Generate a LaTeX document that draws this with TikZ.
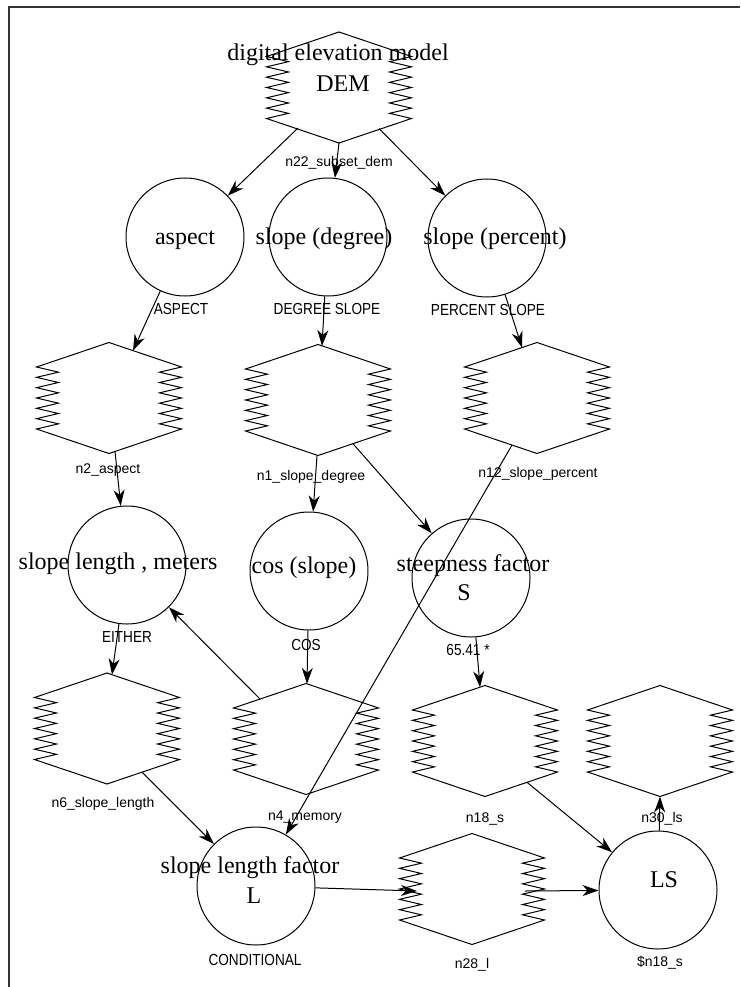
\documentclass[tikz,border=0pt]{standalone}
\usepackage{fontspec}
\setmainfont{Liberation Serif}
\newfontfamily\lblfont{Liberation Sans}
\newfontfamily\capfont[FakeStretch=0.85]{Liberation Sans}
\usetikzlibrary{arrows.meta,calc}
\tikzset{
  hexline/.style={draw=black, line width=1pt, line join=miter},
  zighex/.pic={
    \draw[hexline] (0,-55.5) -- (72.5,-31)
      \foreach \k in {0,...,5}{ -- ({50.5},{-25.83+10.333*\k}) -- ({72.5},{-20.67+10.333*\k}) }
      -- (0,55.5) -- (-72.5,31)
      \foreach \k in {0,...,5}{ -- ({-50.5},{25.83-10.333*\k}) -- ({-72.5},{20.67-10.333*\k}) }
      -- cycle;
  },
  hexbox/.style={draw=none, minimum width=145pt, minimum height=111pt, inner sep=0pt},
  circ/.style={circle, draw=black, line width=1pt, minimum size=118pt, inner sep=0pt},
  big/.style={font=\fontsize{24}{30}\selectfont, inner sep=0pt, anchor=base, text=black},
  lbl/.style={font=\lblfont\fontsize{14}{16}\selectfont, inner sep=0pt, text=black},
  capslbl/.style={font=\capfont\fontsize{16}{18}\selectfont, inner sep=0pt, text=black},
  arr/.style={line width=1pt, draw=black, -{Stealth[length=16pt,width=11pt,inset=5pt]}},
  frameline/.style={line width=2pt, draw=black!80},
}
\newcommand\zhex[2]{\node[hexbox] (#1) at (#2) {}; \pic at (#1) {zighex};}
\begin{document}
\begin{tikzpicture}[x=1pt,y=-1pt]
\useasboundingbox (0,0) rectangle (740,987);
\coordinate (fa) at (9,987);
\coordinate (fb) at (9,7);
\coordinate (fc) at (740,7);
\draw[frameline] (fa) -- (fb) -- (fc);

% hexagons
\zhex{dem}{339,87.5}
\zhex{ntwo}{109,398}
\zhex{none}{318,400}
\zhex{ntwelve}{537,398}
\zhex{nsix}{107,728.5}
\zhex{nfour}{306,739}
\zhex{neighteen}{485,741}
\zhex{nthirty}{660,741}
\zhex{ntwentyeight}{472,889}

% circles
\node[circ] (aspect) at (185,237) {};
\node[circ] (slopedeg) at (328,237) {};
\node[circ] (slopepct) at (487,238) {};
\node[circ] (slopelen) at (127,565) {};
\node[circ] (cosc) at (309,571) {};
\node[circ] (steep) at (471,578) {};
\node[circ] (lfac) at (256,886) {};
\node[circ] (ls) at (658,890) {};

% big texts
\node[big] (t1) at (338,61) {digital elevation model};
\node[big] (t2) at (343,92) {DEM};
\node[big] (t3) at (185,244) {aspect};
\node[big] (t4) at (324,244) {slope (degree)};
\node[big] (t5) at (495,244) {slope (percent)};
\node[big] (t6) at (118,569) {slope length , meters};
\node[big] (t7) at (304,573) {cos (slope)};
\node[big] (t8) at (473,571) {steepness factor};
\node[big] (t9) at (464,600) {S};
\node[big] (t10) at (250,873) {slope length factor};
\node[big] (t11) at (254,903) {L};
\node[big] (t12) at (664,887) {LS};

% small labels
\node[lbl] (l1) at (339,163) {n22\_subset\_dem};
\node[capslbl] (l2) at (181,309) {ASPECT};
\node[capslbl] (l3) at (327,309) {DEGREE SLOPE};
\node[capslbl] (l4) at (488,310) {PERCENT SLOPE};
\node[lbl] (l5) at (108,470) {n2\_aspect};
\node[lbl] (l6) at (311,477) {n1\_slope\_degree};
\node[lbl] (l7) at (538,474) {n12\_slope\_percent};
\node[capslbl] (l8) at (127,637) {EITHER};
\node[capslbl] (l9) at (306,645) {COS};
\node[capslbl] (l10) at (468,650) {65.41 *};
\node[lbl] (l11) at (103,804) {n6\_slope\_length};
\node[lbl] (l12) at (305,817) {n4\_memory};
\node[lbl] (l13) at (485,819) {n18\_s};
\node[lbl] (l14) at (662,819) {n30\_ls};
\node[capslbl] (l15) at (255,960) {CONDITIONAL};
\node[lbl] (l16) at (472,965) {n28\_l};
\node[lbl] (l17) at (660,963) {\$n18\_s};

% connectors
\draw[arr] ($(dem.center)+(-41,40.5)$) -- (aspect);
\draw[arr] ($(dem.center)+(0,55.5)$) -- (slopedeg);
\draw[arr] ($(dem.center)+(40,41)$) -- (slopepct);
\draw[arr] (aspect) -- ($(ntwo.center)+(24,-47.4)$);
\draw[arr] (slopedeg) -- ($(none.center)+(4,-54)$);
\draw[arr] (slopepct) -- ($(ntwelve.center)+(-15,-50.4)$);
\draw[arr] ($(ntwo.center)+(6,53.5)$) -- (slopelen);
\draw[arr] ($(none.center)+(-1,55.5)$) -- (cosc);
\draw[arr] ($(none.center)+(35,43.7)$) -- (steep);
\draw[arr] ($(ntwelve.center)+(-25,47)$) -- (lfac);
\draw[arr] (slopelen) -- ($(nsix.center)+(5,-53.8)$);
\draw[arr] (cosc) -- ($(nfour.center)+(1,-55.2)$);
\draw[arr] ($(nfour.center)+(-46,-40)$) -- (slopelen);
\draw[arr] (steep) -- ($(neighteen.center)+(-5,-53.8)$);
\draw[arr] ($(nsix.center)+(35,43.7)$) -- (lfac);
\draw[arr] ($(neighteen.center)+(42,41.3)$) -- (ls);
\draw[arr] ($(ntwentyeight.center)+(53,2)$) -- (ls);
\draw[arr] (lfac) -- ($(ntwentyeight.center)+(-55,2)$);
\draw[arr] (ls) -- ($(nthirty.center)+(0,55.5)$);
\end{tikzpicture}
\end{document}
